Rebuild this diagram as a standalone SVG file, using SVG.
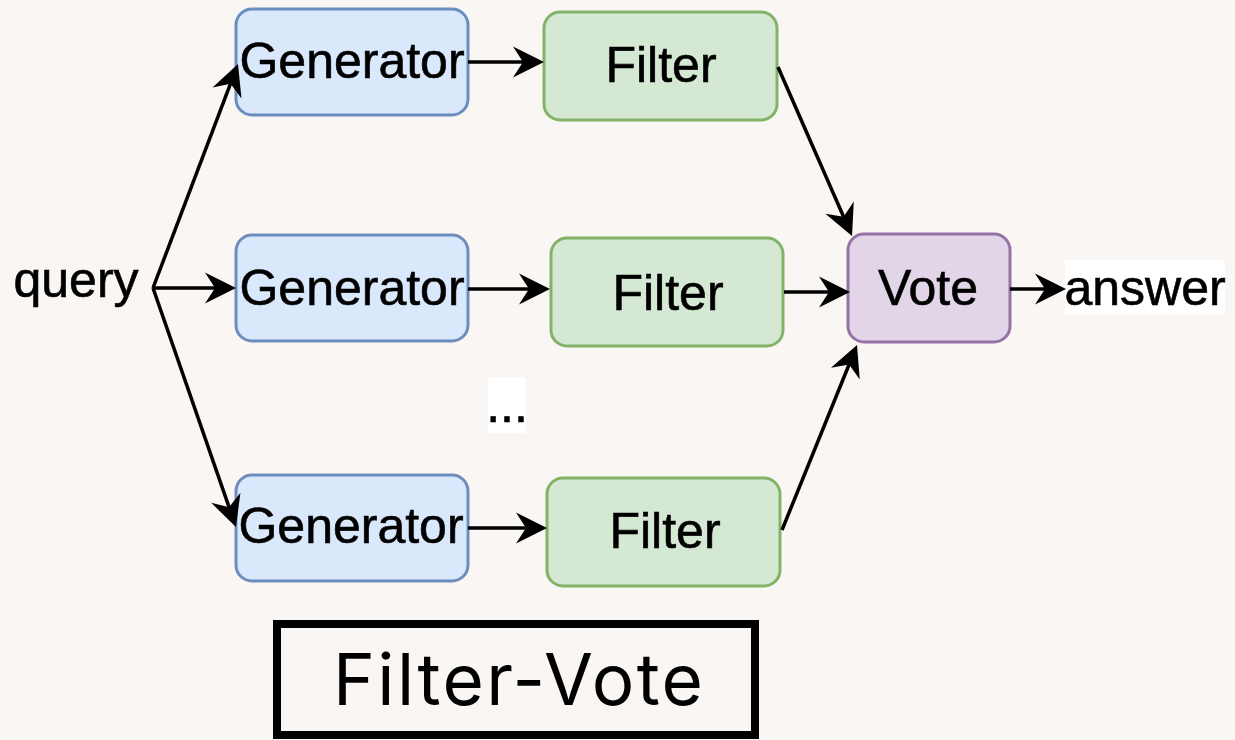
<svg xmlns="http://www.w3.org/2000/svg" width="1235" height="740" viewBox="0 0 1235 740">
  <style>
    .gen { fill: #dae8fc; stroke: #6c8ebf; stroke-width: 3; }
    .flt { fill: #d5e8d4; stroke: #82b366; stroke-width: 3; }
    .vote { fill: #e1d5e7; stroke: #9673a6; stroke-width: 3; }
    .lbl { font-family: "Liberation Sans", Arial, sans-serif; font-size: 50px; fill: #000; stroke: #000; stroke-width: 0.6; text-anchor: middle; }
    .edge { stroke: #000; stroke-width: 3.5; fill: none; marker-end: url(#arrow); }
  </style>
  <defs>
    <marker id="arrow" markerUnits="userSpaceOnUse" viewBox="-32 -17 33 34" markerWidth="33" markerHeight="34" refX="-20" refY="0" orient="auto">
      <path d="M0,0 L-31,-15.5 L-21,0 L-31,15.5 Z" fill="#000"/>
    </marker>
  </defs>

  <rect width="1235" height="740" fill="#f9f6f3"/>

  <!-- input label -->
  <g id="query">
    <text class="lbl" x="76" y="297" font-size="53">query</text>
  </g>

  <!-- generators -->
  <g id="gen1">
    <rect class="gen" x="236" y="9" width="232" height="106" rx="16"/>
    <text class="lbl" x="352" y="78">Generator</text>
  </g>
  <g id="gen2">
    <rect class="gen" x="236" y="235" width="232" height="106" rx="16"/>
    <text class="lbl" x="352" y="305">Generator</text>
  </g>
  <g id="gen3">
    <rect class="gen" x="236" y="475" width="232" height="106" rx="16"/>
    <text class="lbl" x="351" y="543">Generator</text>
  </g>

  <!-- filters -->
  <g id="filter1">
    <rect class="flt" x="544" y="12" width="233" height="108" rx="16"/>
    <text class="lbl" x="661" y="82">Filter</text>
  </g>
  <g id="filter2">
    <rect class="flt" x="551" y="238" width="232" height="108" rx="16"/>
    <text class="lbl" x="668" y="310">Filter</text>
  </g>
  <g id="filter3">
    <rect class="flt" x="547" y="478" width="233" height="108" rx="16"/>
    <text class="lbl" x="665" y="548">Filter</text>
  </g>

  <!-- ellipsis between branches -->
  <g id="ellipsis">
    <rect x="488" y="377" width="38" height="56" fill="#ffffff"/>
    <text class="lbl" x="507" y="422">...</text>
  </g>

  <!-- vote -->
  <g id="vote">
    <rect class="vote" x="848" y="234" width="162" height="108" rx="16"/>
    <text class="lbl" x="928" y="305">Vote</text>
  </g>

  <!-- output label -->
  <g id="answer">
    <rect x="1065" y="260" width="160" height="55" fill="#ffffff"/>
    <text class="lbl" x="1145" y="305">answer</text>
  </g>

  <!-- title -->
  <g id="title">
    <rect x="277" y="624" width="478" height="111" fill="none" stroke="#000" stroke-width="8"/>
    <text x="333" y="705" font-family="Inter, 'Noto Sans', sans-serif" font-size="71" fill="#000" textLength="370" lengthAdjust="spacing">Filter-Vote</text>
  </g>

  <!-- connectors -->
  <g id="connectors">
    <line class="edge" x1="153" y1="288" x2="230.9" y2="82.7"/>
    <line class="edge" x1="153" y1="288" x2="216" y2="288"/>
    <line class="edge" x1="153" y1="288" x2="229.4" y2="508.1"/>
    <line class="edge" x1="468" y1="62" x2="524" y2="62"/>
    <line class="edge" x1="468" y1="289" x2="530" y2="289"/>
    <line class="edge" x1="468" y1="528" x2="527" y2="528"/>
    <line class="edge" x1="778" y1="67" x2="844" y2="217.7"/>
    <line class="edge" x1="784" y1="292" x2="830" y2="292"/>
    <line class="edge" x1="782" y1="530" x2="849.5" y2="363.5"/>
    <line class="edge" x1="1010" y1="289" x2="1046" y2="289"/>
  </g>
</svg>
